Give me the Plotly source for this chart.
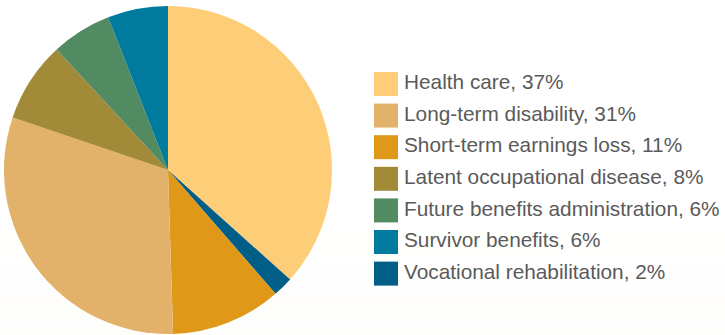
import plotly.graph_objects as go

# Pie slices in drawing order (clockwise from 12 o'clock)
pie_labels = ["Health care", "Vocational rehabilitation", "Short-term earnings loss",
              "Long-term disability", "Latent occupational disease",
              "Future benefits administration", "Survivor benefits"]
pie_values = [37, 2, 11, 31, 8, 6, 6]
pie_colors = ["#FECD78", "#005E87", "#DF9818", "#E2B26B", "#A28B38", "#528A62", "#007B9E"]

# Legend order
legend_labels = ["Health care", "Long-term disability", "Short-term earnings loss",
                 "Latent occupational disease", "Future benefits administration",
                 "Survivor benefits", "Vocational rehabilitation"]
legend_values = [37, 31, 11, 8, 6, 6, 2]

color_map = dict(zip(pie_labels, pie_colors))
legend_colors = [color_map[l] for l in legend_labels]
legend_text = [f"{l}, {v}%" for l, v in zip(legend_labels, legend_values)]

W, H = 725, 335
cx, cy, r = 168, 170, 164

fig = go.Figure()

fig.add_trace(go.Pie(
    labels=pie_labels, values=pie_values, sort=False, direction="clockwise",
    rotation=0, marker=dict(colors=pie_colors, line=dict(width=0)),
    textinfo="none", hoverinfo="label+percent", showlegend=False,
    domain=dict(x=[(cx - r) / W, (cx + r) / W], y=[1 - (cy + r) / H, 1 - (cy - r) / H]),
))

rows = list(range(len(legend_labels)))
fig.add_trace(go.Scatter(
    x=[0] * len(rows), y=rows, mode="markers",
    marker=dict(symbol="square", size=24, color=legend_colors, line=dict(width=0)),
    hoverinfo="skip", showlegend=False, cliponaxis=False,
))
fig.add_trace(go.Scatter(
    x=[18] * len(rows), y=rows, mode="text", text=legend_text, textposition="middle right",
    textfont=dict(family="Liberation Sans, Arial, sans-serif", size=20.8, color="#5A5A5A"),
    hoverinfo="skip", showlegend=False, cliponaxis=False,
))

px0 = 386
step = 31.6
top0 = 84
fig.update_layout(
    width=W, height=H, margin=dict(l=0, r=0, t=0, b=0),
    paper_bgcolor="white", plot_bgcolor="rgba(0,0,0,0)",
    xaxis=dict(range=[-px0, W - px0], visible=False, fixedrange=True),
    yaxis=dict(range=[(H - top0) / step, -top0 / step], visible=False, fixedrange=True),
    showlegend=False,
)

# faint warm gradient toward the bottom
bands = 8
for i in range(bands):
    y0 = i / bands * 0.35
    y1 = (i + 1) / bands * 0.35
    a = 0.025 * (bands - i) / bands
    fig.add_shape(type="rect", xref="paper", yref="paper", x0=0, x1=1, y0=y0, y1=y1,
                  fillcolor=f"rgba(230,200,170,{a:.4f})", line=dict(width=0), layer="below")

fig.write_html("out.html")
